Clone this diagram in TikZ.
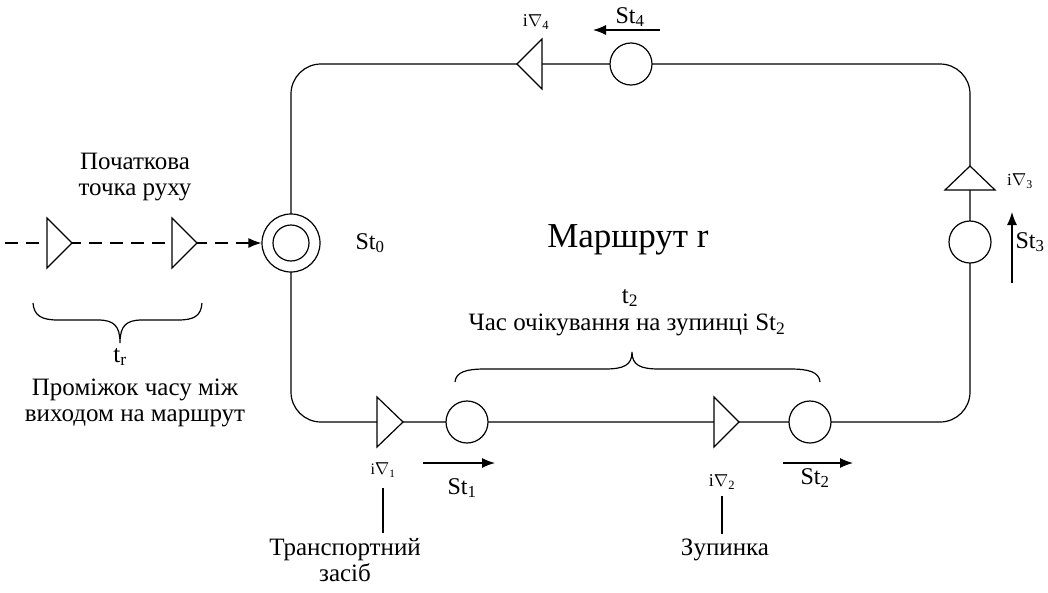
\documentclass[tikz,border=0pt]{standalone}
\usepackage{fontspec}
\setmainfont{LiberationSerif}[Extension=.ttf,UprightFont=*-Regular,BoldFont=*-Bold,ItalicFont=*-Italic,BoldItalicFont=*-BoldItalic]
\usetikzlibrary{arrows.meta}
\begin{document}
\begin{tikzpicture}[x=1pt,y=-1pt, line width=1.2pt,
  tri/.style={draw, fill=white, line join=miter},
  stop/.style={circle, draw, fill=white, minimum size=42pt, inner sep=0pt},
  txt/.style={font=\fontsize{25}{26.5}\selectfont, align=center, inner sep=0pt},
  stl/.style={font=\fontsize{24}{26}\selectfont, inner sep=0pt},
  lbl/.style={font=\fontsize{#1}{#1}\selectfont, inner sep=0pt},
  arr/.style={-{Latex[length=13pt,width=10pt]}},
  brace/.style={line width=1.2pt}
]
\useasboundingbox (0,0) rectangle (1048,592);
% route loop
\coordinate (c0) at (291,243);
\coordinate (ctl) at (291,64);
\coordinate (ctr) at (970,64);
\coordinate (cbr) at (970,422);
\coordinate (cbl) at (291,422);
\draw[rounded corners=30pt] (c0) -- (ctl) -- (ctr) -- (cbr) -- (cbl) -- cycle;
% stops
\node[circle, draw, fill=white, minimum size=58pt, inner sep=0pt] (st0) at (c0) {};
\node[circle, draw, minimum size=36pt, inner sep=0pt] (st0in) at (c0) {};
\node[stop] (st1) at (467,422) {};
\node[stop] (st2) at (810,422) {};
\node[stop] (st3) at (970,242) {};
\node[stop] (st4) at (631,64) {};
% dashed approach
\coordinate (d0) at (5,243);
\draw[dash pattern=on 13pt off 8pt, arr] (d0) -- (st0.west);
\coordinate (p1) at (59.5,243);
\coordinate (p2) at (184.5,243);
\draw[tri] (p1) ++(-12.5,-25) -- ++(25,25) -- ++(-25,25) -- cycle;
\draw[tri] (p2) ++(-12.5,-25) -- ++(25,25) -- ++(-25,25) -- cycle;
% vehicles on route
\coordinate (v1) at (390,422);
\coordinate (v2) at (726.5,422);
\coordinate (v3) at (970,178);
\coordinate (v4) at (529.5,64);
\draw[tri] (v1) ++(-13,-25) -- ++(26,25) -- ++(-26,25) -- cycle;
\draw[tri] (v2) ++(-12.5,-25) -- ++(25,25) -- ++(-25,25) -- cycle;
\draw[tri] (v3) ++(-25,12) -- ++(25,-24) -- ++(25,24) -- cycle;
\draw[tri] (v4) ++(12.5,-25) -- ++(-25,25) -- ++(25,25) -- cycle;
% vehicle labels
\node[lbl=16] (lv1) at (383,470) {i$\nabla$\textsubscript{1}};
\node[lbl=18] (lv2) at (722,482) {i$\nabla$\textsubscript{2}};
\node[lbl=17] (lv3) at (1020,181) {i$\nabla$\textsubscript{3}};
\node[lbl=18] (lv4) at (536,22) {i$\nabla$\textsubscript{4}};
% stop labels
\node[stl] (s0) at (370,243) {St\textsubscript{0}};
\node[stl] (s1) at (462,488) {St\textsubscript{1}};
\node[stl] (s2) at (815,478) {St\textsubscript{2}};
\node[stl] (s3) at (1030,242) {St\textsubscript{3}};
\node[stl] (s4) at (630,17) {St\textsubscript{4}};
% direction arrows
\coordinate (a1s) at (423,463); \coordinate (a1e) at (495,463);
\coordinate (a2s) at (783,463); \coordinate (a2e) at (853,463);
\coordinate (a3s) at (1012,283); \coordinate (a3e) at (1012,212);
\coordinate (a4s) at (660,30); \coordinate (a4e) at (593,30);
\draw[arr] (a1s) -- (a1e);
\draw[arr] (a2s) -- (a2e);
\draw[arr] (a3s) -- (a3e);
\draw[arr] (a4s) -- (a4e);
% texts
\node[font=\fontsize{35}{40}\selectfont, inner sep=0pt] (title) at (628,240) {Маршрут r};
\node[txt] (start) at (135,177) {Початкова\\точка руху};
\node[txt] (t2) at (630,298) {t\textsubscript{2}};
\node[txt] (wait) at (627,325) {Час очікування на зупинці St\textsubscript{2}};
\node[txt] (trl) at (120,357) {t\textsubscript{r}};
\node[txt] (interval) at (135,403) {Проміжок часу між\\виходом на маршрут};
\node[txt] (veh) at (345,560) {Транспортний\\засіб};
\node[txt] (stopname) at (725,550) {Зупинка};
% pointer lines
\draw[shorten <=10pt, shorten >=4pt] (lv1.south) -- (lv1.south |- veh.north);
\draw[shorten <=6pt, shorten >=4pt] (lv2.south) -- (lv2.south |- stopname.north);
% braces
\draw[brace] (33,303) .. controls (34,316) and (42,320) .. (58,320) -- (98,320)
  .. controls (114,320) and (120,326) .. (120,343)
  .. controls (120,326) and (126,320) .. (142,320) -- (178,320)
  .. controls (194,320) and (201,316) .. (202,303);
\draw[brace] (455,382) .. controls (456,372) and (466,369) .. (485,369) -- (605,369)
  .. controls (624,369) and (632,365) .. (632,352)
  .. controls (632,365) and (640,369) .. (659,369) -- (790,369)
  .. controls (809,369) and (819,372) .. (820,382);
\end{tikzpicture}
\end{document}
